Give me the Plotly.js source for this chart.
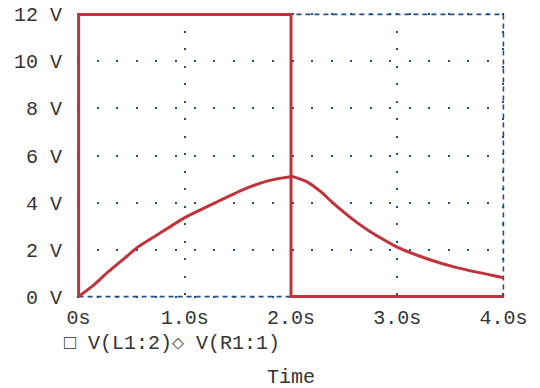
<!DOCTYPE html>
<html>
<head>
<meta charset="utf-8">
<script src="https://cdn.plot.ly/plotly-3.0.1.min.js"></script>
<style>html,body{margin:0;padding:0;background:#fff;}#chart{width:540px;height:388px;}</style>
</head>
<body>
<div id="chart"></div>
<script>
// Series V(L1:2): square pulse
const timeL = [0, 0, 2, 2, 4];
const voltL = [0, 12, 12, 0, 0];
// Series V(R1:1)
const timeR = [0, 0.124, 0.28, 0.44, 0.55, 0.75, 1.0, 1.29, 1.54, 1.79, 1.98, 2.02, 2.15, 2.28, 2.40, 2.56, 2.75, 3.01, 3.28, 3.56, 4.0];
const voltR = [0, 0.42, 1.06, 1.66, 2.08, 2.65, 3.36, 4.0, 4.53, 4.93, 5.09, 5.10, 4.88, 4.46, 3.96, 3.36, 2.75, 2.08, 1.61, 1.23, 0.80];
// Tick labels
const xTickVals = [0, 1, 2, 3, 4];
const xTickText = ['0s', '1.0s', '2.0s', '3.0s', '4.0s'];
const yTickVals = [0, 2, 4, 6, 8, 10, 12];
const yTickText = ['0 V', '2 V', '4 V', '6 V', '8 V', '10 V', '12 V'];
const legendText = '\u25A1 V(L1:2)\u25C7 V(R1:1)';
const xTitle = 'Time';

const FONT = 'Courier New, Courier, Nimbus Mono PS, FreeMono, Liberation Mono, DejaVu Sans Mono, monospace';
const RED = '#c1323c';
const BLUE = '#1f5088';

const traces = [
  {x: timeL, y: voltL, type: 'scatter', mode: 'lines', line: {color: RED, width: 3}, hoverinfo: 'skip'},
  {x: timeR, y: voltR, type: 'scatter', mode: 'lines', line: {color: RED, width: 3, shape: 'spline', smoothing: 0.5}, hoverinfo: 'skip'}
];

const layout = {
  width: 540, height: 388,
  margin: {l: 77, r: 35, t: 13, b: 90},
  paper_bgcolor: '#fff', plot_bgcolor: '#fff',
  showlegend: false,
  font: {family: FONT, size: 20, color: '#333'},
  xaxis: {
    range: [-0.015, 4.015], tickvals: xTickVals, ticktext: xTickText,
    showgrid: true, gridcolor: BLUE, gridwidth: 2, griddash: '2px,15.5px',
    zeroline: false, showline: false,
    ticks: 'outside', ticklen: 1, tickcolor: 'rgba(0,0,0,0)',
    tickfont: {family: FONT, size: 20, color: '#333'}
  },
  yaxis: {
    range: [-0.06, 12.06], tickvals: yTickVals, ticktext: yTickText,
    showgrid: true, gridcolor: BLUE, gridwidth: 2, griddash: '2px,17.5px',
    zeroline: false, showline: false,
    ticks: 'outside', ticklen: 10, tickcolor: 'rgba(0,0,0,0)',
    tickfont: {family: FONT, size: 20, color: '#333'}
  },
  shapes: [
    {type: 'rect', xref: 'x', yref: 'y', x0: 0, x1: 4, y0: 0, y1: 12,
     line: {color: BLUE, width: 1.6, dash: '5px,4px'}, layer: 'below'}
  ],
  annotations: [
    {xref: 'paper', yref: 'paper', x: -0.035, y: -0.161, xanchor: 'left', yanchor: 'middle',
     text: legendText, showarrow: false, font: {family: FONT, size: 20, color: '#333'}},
    {xref: 'paper', yref: 'paper', x: 0.5, y: -0.278, xanchor: 'center', yanchor: 'middle',
     text: xTitle, showarrow: false, font: {family: FONT, size: 20, color: '#333'}}
  ]
};

Plotly.newPlot('chart', traces, layout, {staticPlot: true, displayModeBar: false});
</script>
</body>
</html>
